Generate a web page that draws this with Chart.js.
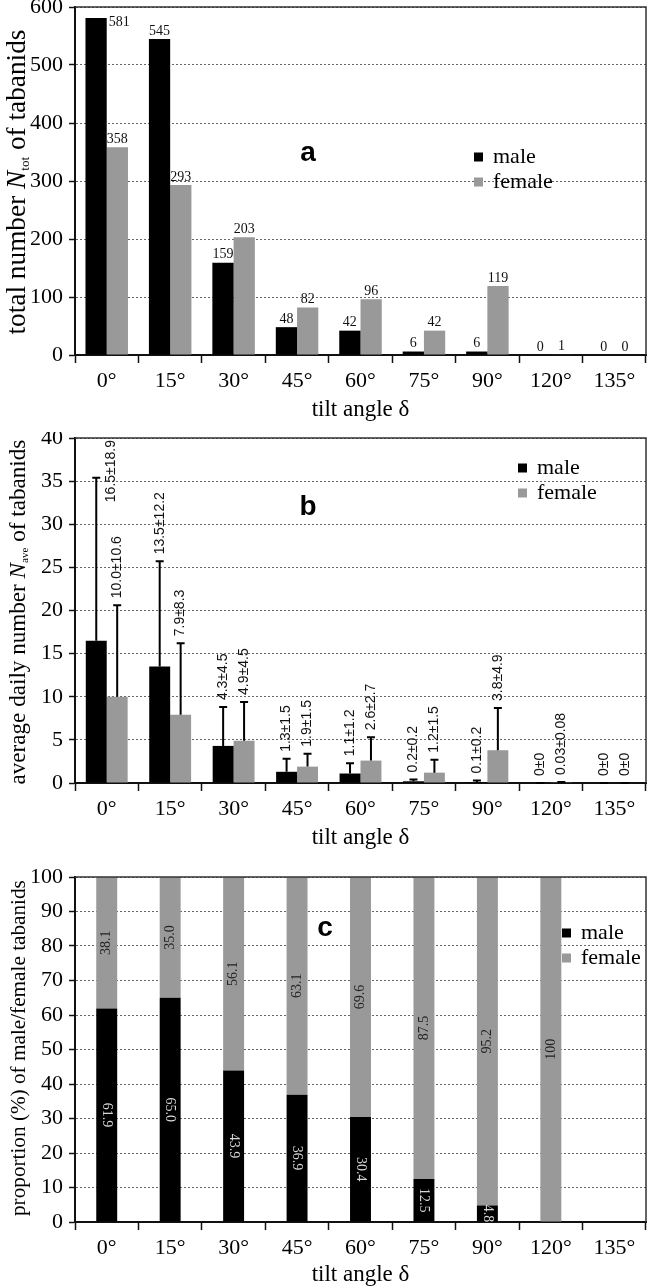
<!DOCTYPE html>
<html><head><meta charset="utf-8">
<script src="https://cdn.jsdelivr.net/npm/chart.js@4.4.1/dist/chart.umd.min.js"></script>
<style>
html,body{margin:0;padding:0;background:#fff;}
body{width:649px;height:1286px;position:relative;overflow:hidden;}
canvas{position:absolute;left:0;}
</style></head><body>
<canvas id="ca" width="649" height="432" style="top:0px"></canvas>
<canvas id="cb" width="649" height="430" style="top:432px"></canvas>
<canvas id="cc" width="649" height="424" style="top:862px"></canvas>
<script>
// ---------- data ----------
const categories = ['0°','15°','30°','45°','60°','75°','90°','120°','135°'];
const seriesNames = ['male','female'];
// (a) total number
const maleTotal   = [581,545,159,48,42,6,6,0,0];
const femaleTotal = [358,293,203,82,96,42,119,1,0];
// (b) average daily number ± SD
const maleMean   = [16.5,13.5,4.3,1.3,1.1,0.2,0.1,0,0];
const maleSD     = [18.9,12.2,4.5,1.5,1.2,0.2,0.2,0,0];
const femaleMean = [10.0,7.9,4.9,1.9,2.6,1.2,3.8,0.03,0];
const femaleSD   = [10.6,8.3,4.5,1.5,2.7,1.5,4.9,0.08,0];
// (c) proportion (%)
const malePct   = [61.9,65.0,43.9,36.9,30.4,12.5,4.8,0,0];
const femalePct = [38.1,35.0,56.1,63.1,69.6,87.5,95.2,100,0];
// axis ranges / tick steps
const yMaxA = 600, yStepA = 100;
const yMaxB = 40,  yStepB = 5;
const yMaxC = 100, yStepC = 10;

const SERIF = '"Liberation Serif", "Times New Roman", serif';
const SANS = '"Liberation Sans", Arial, sans-serif';
const NARROW = '"Liberation Sans Narrow", "Liberation Sans", Arial, sans-serif';
const MALE_C = '#000000', FEMALE_C = '#999999';

function fmtB(v){ if (v === 0) return '0'; return Math.abs(v) < 0.1 ? v.toFixed(2) : v.toFixed(1); }
function fmtC(v){ return v === 100 ? '100' : v.toFixed(1); }

function fontFor(p, s){
  if (p.it) return 'italic ' + s + 'px ' + SERIF;
  if (p.sub) return (s*0.48).toFixed(2) + 'px ' + SERIF;
  return s + 'px ' + SERIF;
}
function drawYTitle(ctx, parts, bx, cy, len){
  const base = 20;
  let total = 0;
  parts.forEach(p => { ctx.font = fontFor(p, base); total += ctx.measureText(p.t).width; });
  const size = base * len / total;
  ctx.save();
  ctx.translate(bx, cy); ctx.rotate(-Math.PI/2);
  ctx.fillStyle = '#000'; ctx.textBaseline = 'alphabetic'; ctx.textAlign = 'left';
  let u = -len/2;
  parts.forEach(p => {
    ctx.font = fontFor(p, size);
    ctx.fillText(p.t, u, p.sub ? size*0.14 : 0);
    u += ctx.measureText(p.t).width;
  });
  ctx.restore();
}

function decorPlugin(d){
  return {
    id: 'decor',
    afterDraw(chart){
      const {ctx, chartArea: a} = chart;
      ctx.save();
      ctx.strokeStyle = '#333'; ctx.lineWidth = 1.5;
      ctx.beginPath(); ctx.moveTo(a.left, a.top); ctx.lineTo(a.right, a.top); ctx.lineTo(a.right, a.bottom); ctx.stroke();
      ctx.fillStyle = '#000'; ctx.font = 'bold 28px ' + SANS;
      ctx.textAlign = 'center'; ctx.textBaseline = 'middle';
      ctx.fillText(d.letter, d.lx, d.ly);
      ctx.font = '22px ' + SERIF; ctx.textAlign = 'left'; ctx.textBaseline = 'middle';
      const cols = [MALE_C, FEMALE_C];
      seriesNames.forEach((n, i) => {
        const y = d.legY + i*25;
        ctx.fillStyle = cols[i];
        ctx.fillRect(d.legX, y - 4.5, 9, 9);
        ctx.fillStyle = '#000';
        ctx.fillText(n, d.legX + 19, y);
      });
      ctx.restore();
      drawYTitle(ctx, d.ytitle, 25, d.ycy, d.ylen);
    }
  };
}

function xScale(h, pb, stacked){
  return {
    stacked: stacked,
    grid: {display: true, drawOnChartArea: false, drawTicks: true, tickLength: 8, tickColor: '#111', tickWidth: 1.5, offset: true},
    border: {display: true, color: '#111', width: 2},
    ticks: {font: {family: SERIF, size: 22}, color: '#000', padding: 5, maxRotation: 0, autoSkip: false},
    title: {display: true, text: 'tilt angle δ', color: '#000', font: {family: SERIF, size: 23, lineHeight: 1}, padding: {top: 0, bottom: pb}},
    afterFit(s){ s.height = h; s.paddingLeft = 0; s.paddingRight = 0; }
  };
}
function yScale(max, step, stacked){
  return {
    stacked: stacked, min: 0, max: max,
    ticks: {stepSize: step, font: {family: SERIF, size: 22}, color: '#000', padding: 6},
    grid: {color: '#666', lineWidth: 1, drawTicks: true, tickLength: 6, tickColor: '#111', tickWidth: 1.5},
    border: {display: true, color: '#111', width: 2, dash: [2, 2]},
    afterFit(s){ s.width = 75; s.paddingTop = 0; s.paddingBottom = 0; }
  };
}
function baseOptions(padTop, scales){
  return {
    responsive: false, animation: false, devicePixelRatio: 1, events: [],
    layout: {padding: {top: padTop, right: 3, left: 0, bottom: 0}},
    plugins: {legend: {display: false}, tooltip: {enabled: false}, title: {display: false}},
    scales: scales
  };
}

// ---------- (a) ----------
const labelsA = {
  id: 'labelsA',
  afterDatasetsDraw(chart){
    const {ctx, chartArea: a} = chart;
    ctx.save();
    ctx.font = '14px ' + SERIF; ctx.fillStyle = '#111';
    chart.data.datasets.forEach((ds, i) => {
      chart.getDatasetMeta(i).data.forEach((el, j) => {
        const txt = String(ds.data[j]);
        if (el.y - 15 < a.top) {
          ctx.textAlign = 'left'; ctx.textBaseline = 'top';
          ctx.fillText(txt, el.x + el.width/2 + 2, el.y - 3);
        } else {
          ctx.textAlign = 'center'; ctx.textBaseline = 'bottom';
          ctx.fillText(txt, el.x, el.y - 1);
        }
      });
    });
    ctx.restore();
  }
};
new Chart(document.getElementById('ca'), {
  type: 'bar',
  data: {labels: categories, datasets: [
    {label: seriesNames[0], data: maleTotal, backgroundColor: MALE_C, categoryPercentage: 0.67, barPercentage: 1.0},
    {label: seriesNames[1], data: femaleTotal, backgroundColor: FEMALE_C, categoryPercentage: 0.67, barPercentage: 1.0}
  ]},
  options: baseOptions(7, {x: xScale(77, 11, false), y: yScale(yMaxA, yStepA, false)}),
  plugins: [labelsA, decorPlugin({letter: 'a', lx: 308, ly: 153, legX: 474, legY: 157,
    ytitle: [{t: 'total number '}, {t: 'N', it: true}, {t: 'tot', sub: true}, {t: ' of tabanids'}], ycy: 182, ylen: 305})]
});

// ---------- (b) ----------
const errB = {
  id: 'errB',
  afterDatasetsDraw(chart){
    const {ctx, chartArea: a} = chart;
    const ys = chart.scales.y;
    const means = [maleMean, femaleMean], sds = [maleSD, femaleSD];
    ctx.save();
    chart.data.datasets.forEach((ds, i) => {
      chart.getDatasetMeta(i).data.forEach((el, j) => {
        const m = means[i][j], sd = sds[i][j];
        const yTop = ys.getPixelForValue(m + sd);
        ctx.strokeStyle = '#000'; ctx.lineWidth = 2;
        ctx.beginPath(); ctx.moveTo(el.x, el.y); ctx.lineTo(el.x, yTop);
        ctx.moveTo(el.x - 4, yTop); ctx.lineTo(el.x + 4, yTop); ctx.stroke();
        const txt = fmtB(m) + '±' + fmtB(sd);
        ctx.font = '14px ' + NARROW;
        const w = ctx.measureText(txt).width;
        let bottom = yTop - 7, x = el.x;
        if (bottom - w < a.top + 2) { bottom = a.top + 2 + w; x += 15; }
        ctx.save();
        ctx.translate(x, bottom); ctx.rotate(-Math.PI/2);
        ctx.fillStyle = '#111'; ctx.textAlign = 'left'; ctx.textBaseline = 'middle';
        ctx.fillText(txt, 0, 0);
        ctx.restore();
      });
    });
    ctx.restore();
  }
};
new Chart(document.getElementById('cb'), {
  type: 'bar',
  data: {labels: categories, datasets: [
    {label: seriesNames[0], data: maleMean, backgroundColor: MALE_C, categoryPercentage: 0.66, barPercentage: 1.0},
    {label: seriesNames[1], data: femaleMean, backgroundColor: FEMALE_C, categoryPercentage: 0.66, barPercentage: 1.0}
  ]},
  options: baseOptions(6, {x: xScale(79, 13, false), y: yScale(yMaxB, yStepB, false)}),
  plugins: [errB, decorPlugin({letter: 'b', lx: 308, ly: 507 - 432, legX: 518, legY: 468 - 432,
    ytitle: [{t: 'average daily number '}, {t: 'N', it: true}, {t: 'ave', sub: true}, {t: ' of tabanids'}], ycy: 612 - 432, ylen: 345})]
});

// ---------- (c) ----------
const labelsC = {
  id: 'labelsC',
  afterDatasetsDraw(chart){
    const {ctx} = chart;
    ctx.save();
    ctx.font = '14px ' + SERIF; ctx.textAlign = 'center'; ctx.textBaseline = 'middle';
    chart.data.datasets.forEach((ds, i) => {
      chart.getDatasetMeta(i).data.forEach((el, j) => {
        const v = ds.data[j];
        if (!v) return;
        const cy = (el.y + el.base) / 2;
        ctx.save();
        ctx.translate(el.x, cy);
        ctx.rotate(i === 0 ? Math.PI/2 : -Math.PI/2);
        ctx.fillStyle = i === 0 ? '#d8d8d8' : '#222';
        ctx.fillText(fmtC(v), 0, 0);
        ctx.restore();
      });
    });
    ctx.restore();
  }
};
new Chart(document.getElementById('cc'), {
  type: 'bar',
  data: {labels: categories, datasets: [
    {label: seriesNames[0], data: malePct, backgroundColor: MALE_C, categoryPercentage: 0.66, barPercentage: 0.5},
    {label: seriesNames[1], data: femalePct, backgroundColor: FEMALE_C, categoryPercentage: 0.66, barPercentage: 0.5}
  ]},
  options: baseOptions(15, {x: xScale(64, 0, true), y: yScale(yMaxC, yStepC, true)}),
  plugins: [labelsC, decorPlugin({letter: 'c', lx: 325, ly: 928 - 862, legX: 562, legY: 933 - 862,
    ytitle: [{t: 'proportion (%) of male/female tabanids'}], ycy: 1048 - 862, ylen: 336})]
});
</script>
</body></html>
